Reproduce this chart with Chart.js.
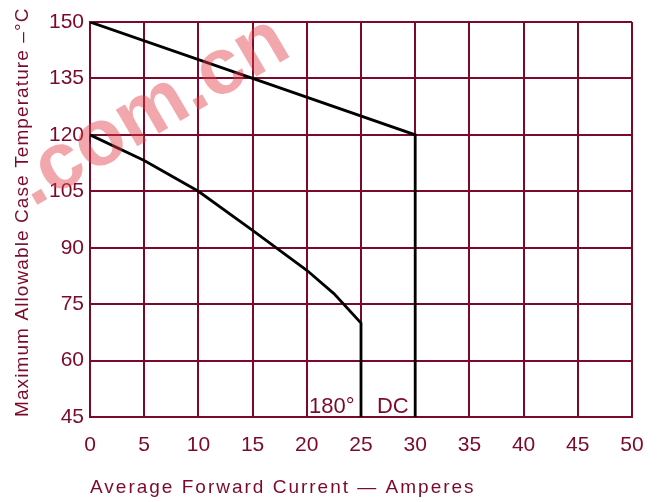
<!DOCTYPE html>
<html>
<head>
<meta charset="utf-8">
<script src="https://cdn.jsdelivr.net/npm/chart.js@4"></script>
<style>
  html, body { margin: 0; padding: 0; background: #fff; }
  #wrap { width: 662px; height: 502px; }
</style>
</head>
<body>
<div id="wrap"><canvas id="derating"></canvas></div>
<script>
const maroon = "#7b0a2a";

const xTicks = [0, 5, 10, 15, 20, 25, 30, 35, 40, 45, 50];
const yTicks = [45, 60, 75, 90, 105, 120, 135, 150];

// DC curve
const dcCurrent = [0, 15, 30, 30];
const dcTemp = [150, 135, 120, 45];

// 180 degree conduction curve
const halfCurrent = [0, 5, 10, 15, 20, 22.5, 25, 25];
const halfTemp = [120, 113.2, 105, 94.6, 84, 77.8, 70, 45];

const labelsText = [
    { text: "180°", x: 24.4, y: 45 },
    { text: "DC", x: 29.4, y: 45 }
];

function pairs(xs, ys) {
    return xs.map((x, i) => ({ x, y: ys[i] }));
}

const decorPlugin = {
    id: "decor",
    afterDatasetsDraw(chart) {
        const ctx = chart.ctx;
        const xs = chart.scales.x;
        const ys = chart.scales.y;
        const area = chart.chartArea;

        ctx.save();
        ctx.fillStyle = maroon;
        ctx.font = "22px 'Liberation Sans'";
        ctx.textAlign = "right";
        ctx.textBaseline = "alphabetic";
        labelsText.forEach(l => {
            ctx.fillText(l.text, xs.getPixelForValue(l.x), ys.getPixelForValue(l.y) - 4);
        });

        // axis titles
        ctx.font = "19px 'Liberation Sans'";
        ctx.letterSpacing = "2px";
        ctx.textAlign = "left";
        ctx.fillText("Average Forward Current \u2014 Amperes", area.left, 493);

        ctx.translate(28, area.bottom);
        ctx.rotate(-Math.PI / 2);
        ctx.letterSpacing = "1.1px";
        ctx.fillText("Maximum Allowable Case Temperature \u2013\u00B0C", 0, 0);
        ctx.restore();

        // watermark
        ctx.save();
        ctx.translate(152, 112);
        ctx.rotate(-0.53);
        ctx.fillStyle = "rgba(225, 60, 70, 0.45)";
        ctx.font = "bold 80px 'Liberation Sans'";
        ctx.textAlign = "center";
        ctx.textBaseline = "middle";
        ctx.fillText(".com.cn", 0, 0);
        ctx.restore();
    }
};

new Chart(document.getElementById("derating"), {
    type: "line",
    data: {
        datasets: [
            {
                label: "DC",
                data: pairs(dcCurrent, dcTemp),
                borderColor: "#000",
                borderWidth: 2.8,
                pointRadius: 0,
                tension: 0
            },
            {
                label: "180°",
                data: pairs(halfCurrent, halfTemp),
                borderColor: "#000",
                borderWidth: 2.8,
                pointRadius: 0,
                tension: 0
            }
        ]
    },
    options: {
        responsive: true,
        maintainAspectRatio: false,
        animation: false,
        layout: { padding: { top: 22, right: 30, left: 0, bottom: 0 } },
        plugins: {
            legend: { display: false },
            tooltip: { enabled: false }
        },
        scales: {
            x: {
                type: "linear",
                min: 0,
                max: 50,
                afterFit(scale) { scale.height = 85; },
                afterBuildTicks(scale) { scale.ticks = xTicks.map(v => ({ value: v })); },
                grid: { color: maroon, lineWidth: 2, drawTicks: false },
                border: { color: maroon, width: 2 },
                ticks: {
                    color: maroon,
                    padding: 16,
                    maxRotation: 0,
                    font: { family: "'Liberation Sans'", size: 21 }
                }
            },
            y: {
                type: "linear",
                min: 45,
                max: 150,
                afterFit(scale) { scale.width = 90; },
                afterBuildTicks(scale) { scale.ticks = yTicks.map(v => ({ value: v })); },
                grid: { color: maroon, lineWidth: 2, drawTicks: false },
                border: { color: maroon, width: 2 },
                ticks: {
                    color: maroon,
                    padding: 6,
                    font: { family: "'Liberation Sans'", size: 21 }
                }
            }
        }
    },
    plugins: [decorPlugin]
});
</script>
</body>
</html>
